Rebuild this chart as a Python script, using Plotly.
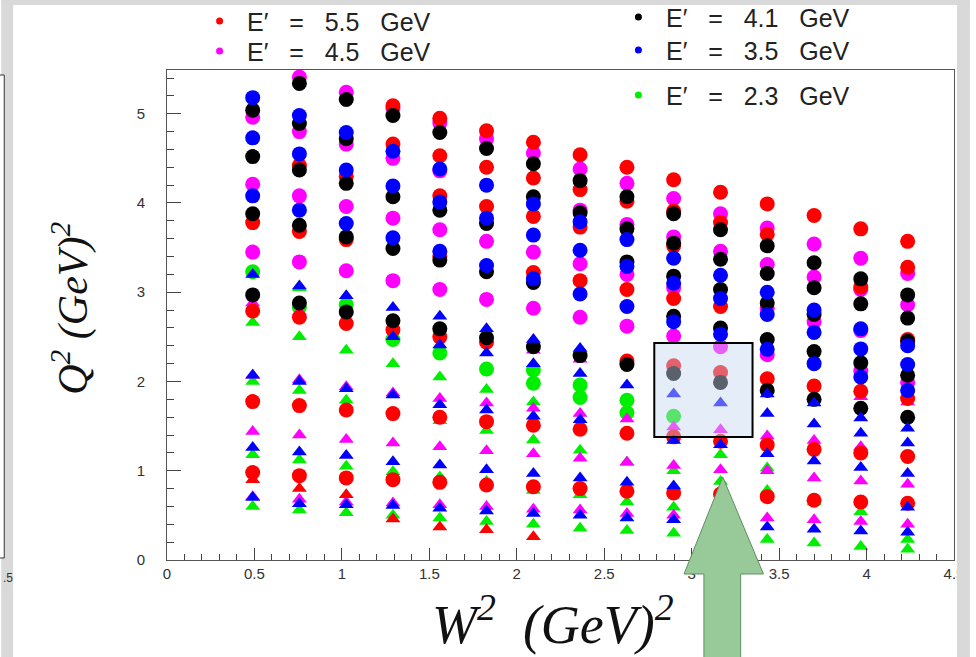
import plotly.graph_objects as go

# ---------------- data ----------------
W2_BINS = [0.49, 0.757, 1.025, 1.292, 1.56, 1.827, 2.095, 2.362, 2.63,
           2.897, 3.165, 3.432, 3.70, 3.967, 4.235]

# Q2 values per W2 bin (one sub-list per bin)
red_circle = [
    [3.78, 2.79, 1.775, 0.98],
    [4.42, 3.68, 2.72, 1.73, 0.945],
    [4.30, 3.59, 2.65, 1.68, 0.92],
    [5.09, 4.66, 2.58, 1.64, 0.90],
    [4.95, 4.53, 4.08, 3.40, 2.50, 1.60, 0.87],
    [4.81, 4.40, 3.96, 2.44, 1.55, 0.84],
    [4.68, 4.28, 3.85, 3.22, 1.51, 0.82],
    [4.54, 4.15, 3.73, 3.13, 1.465, 0.80],
    [4.40, 4.02, 3.03, 2.23, 1.42, 0.77],
    [4.26, 3.91, 3.52, 2.93, 2.175, 1.38, 0.75],
    [4.12, 3.78, 2.84, 2.10, 1.33, 0.74],
    [3.99, 3.65, 2.03, 1.29, 0.71],
    [3.86, 1.95, 1.24, 0.67],
    [3.71, 3.06, 1.89, 1.20, 0.65],
    [3.57, 3.28, 2.47, 1.81, 1.16, 0.635],
]
red_triangle = [[0.90], [0.80], [0.73], [0.46], [0.37], [0.34], [0.26],
                [], [], [], [], [], [], [], []]

magenta_circle = [
    [4.96, 4.21, 3.45],
    [5.41, 4.80, 4.08, 3.34],
    [5.24, 4.66, 3.96, 3.24],
    [5.06, 4.50, 3.83, 3.13],
    [4.90, 4.36, 3.70, 3.03],
    [4.72, 3.57, 2.92],
    [4.56, 3.45, 2.82],
    [4.38, 3.92, 3.32, 2.72],
    [4.22, 3.76, 3.20, 2.62],
    [4.05, 3.62, 3.05, 2.51],
    [3.88, 3.46, 2.39],
    [3.72, 3.31, 2.82, 2.30],
    [3.54, 3.17, 2.67],
    [3.38, 3.03, 2.57, 2.12],
    [3.21, 2.86, 1.99],
]
magenta_triangle = [
    [2.88, 2.07, 1.44, 0.71],
    [2.78, 2.02, 1.40, 0.68],
    [1.94, 1.35, 0.65],
    [1.87, 1.31, 0.64],
    [1.81, 1.27, 0.62],
    [1.76, 1.225, 0.60],
    [2.35, 1.70, 1.19, 0.57],
    [2.25, 1.64, 1.14, 0.56],
    [1.58, 1.095, 0.52],
    [1.49, 1.06, 0.50],
    [1.46, 1.01, 0.47],
    [1.39, 1.00, 0.47],
    [1.34, 0.92, 0.45],
    [1.83, 1.27, 0.885, 0.43],
    [1.77, 0.85, 0.40],
]

black_circle = [
    [5.04, 4.52, 3.88, 2.97],
    [5.34, 4.89, 4.37, 3.75, 2.88],
    [5.16, 4.72, 4.22, 3.62, 2.78],
    [4.98, 4.07, 3.49, 2.68],
    [4.79, 3.92, 3.36, 2.59],
    [4.61, 3.77, 3.23, 2.49],
    [4.44, 4.07, 3.11, 2.39],
    [4.25, 3.89, 2.29],
    [4.07, 3.71, 3.34, 2.19],
    [3.88, 3.55, 3.18, 2.73, 2.09],
    [3.70, 3.37, 3.03, 2.60, 1.99],
    [3.52, 3.21, 2.88, 2.47, 1.90],
    [3.33, 3.05, 2.75, 2.335, 1.80],
    [3.15, 2.87, 2.21, 1.70],
    [2.97, 2.71, 2.45, 2.07, 1.60],
]

blue_circle = [
    [5.18, 4.73, 4.08],
    [4.98, 4.55, 3.92],
    [4.79, 4.37, 3.77],
    [4.58, 4.19, 3.61],
    [4.38, 4.01, 3.46],
    [4.20, 3.83, 3.30],
    [3.99, 3.64, 3.15],
    [3.79, 3.47, 2.98],
    [3.59, 3.29, 2.84],
    [3.38, 3.10, 2.67],
    [3.19, 2.93, 2.53],
    [3.00, 2.75, 2.36],
    [2.80, 2.55, 2.20],
    [2.59, 2.365, 2.05],
    [2.40, 2.19, 1.90],
]
blue_triangle = [
    [3.20, 2.07, 1.26, 0.70],
    [3.07, 2.00, 1.21, 0.63],
    [2.96, 1.92, 1.17, 0.62],
    [2.83, 2.50, 1.85, 1.10, 0.61],
    [2.73, 2.41, 1.74, 1.065, 0.58],
    [2.59, 2.32, 1.68, 1.01, 0.55],
    [2.47, 2.20, 1.61, 0.97, 0.52],
    [2.37, 2.09, 1.57, 0.92, 0.50],
    [1.96, 0.87, 0.47],
    [1.86, 1.34, 0.83, 0.45],
    [1.76, 1.29, 0.42],
    [1.86, 1.64, 1.19, 0.37],
    [1.76, 1.525, 1.11, 0.345],
    [1.59, 1.42, 1.035, 0.325],
    [1.475, 1.31, 0.97, 0.59, 0.31],
]

green_circle = [[3.23], [2.83], [2.86], [2.47], [2.32], [2.14], [2.13, 1.98],
                [1.96, 1.82], [1.79, 1.65], [1.61], [], [], [], [], []]
green_triangle = [
    [2.66, 2.00, 1.18, 0.60],
    [3.05, 2.50, 1.90, 1.12, 0.56],
    [2.35, 1.79, 1.05, 0.53],
    [2.20, 0.99, 0.50],
    [2.05, 1.56, 0.93, 0.47],
    [1.91, 1.45, 0.88, 0.43],
    [1.77, 1.345, 0.78, 0.40],
    [1.23, 0.73, 0.355],
    [1.095, 0.65, 0.33],
    [1.00, 0.59, 0.30],
    [1.18, 0.88, 0.28],
    [1.03, 0.78, 0.23],
    [0.65, 0.19],
    [0.54, 0.15],
    [0.23, 0.12],
]

LEGEND_LABELS = ["E′ = 5.5 GeV", "E′ = 4.5 GeV", "E′ = 4.1 GeV",
                 "E′ = 3.5 GeV", "E′ = 2.3 GeV"]
X_TICKS = [0, 0.5, 1, 1.5, 2, 2.5, 3, 3.5, 4, 4.5]
X_TICK_TEXT = ["0", "0.5", "1", "1.5", "2", "2.5", "3", "3.5", "4", "4.5"]
Y_TICKS = [0, 1, 2, 3, 4, 5]

# ---------------- style ----------------
RED, MAGENTA, BLACK, BLUE, GREEN = "#ff0000", "#ff00ff", "#000000", "#0000ff", "#00ee00"

W, H = 976, 657
ML, MR, MT, MB = 167, 16, 70, 97
PW, PH = W - ML - MR, H - MT - MB


def px(x):
    return (x - ML) / PW


def py(y):
    return (H - MB - y) / PH


def flat(groups):
    xs, ys = [], []
    for xb, vals in zip(W2_BINS, groups):
        for v in vals:
            xs.append(xb)
            ys.append(v)
    return xs, ys


fig = go.Figure()
series = [
    (green_circle, green_triangle, GREEN),
    (magenta_circle, magenta_triangle, MAGENTA),
    (red_circle, red_triangle, RED),
    (black_circle, None, BLACK),
    (blue_circle, blue_triangle, BLUE),
]
for circ, tri, col in series:
    for groups, sym, size in ((circ, "circle", 15), (tri, "triangle-up", 13)):
        if groups is None:
            continue
        xs, ys = flat(groups)
        fig.add_trace(go.Scatter(x=xs, y=ys, mode="markers", showlegend=False,
                                 marker=dict(symbol=sym, size=size, color=col,
                                             line=dict(width=0))))

tickfont = dict(family="Liberation Sans", size=15, color="#333333")
fig.update_xaxes(range=[0, 4.5], tickvals=X_TICKS, ticktext=X_TICK_TEXT,
                 ticks="inside", ticklen=12, tickcolor="#444", tickwidth=1,
                 minor=dict(dtick=0.1, ticks="inside", ticklen=6, tickcolor="#444"),
                 showline=True, linecolor="#555", linewidth=1, mirror=True,
                 showgrid=False, zeroline=False, tickfont=tickfont)
fig.update_yaxes(range=[0, 5.49], tickvals=Y_TICKS,
                 ticks="inside", ticklen=14, tickcolor="#444", tickwidth=1,
                 minor=dict(dtick=0.2, ticks="inside", ticklen=7, tickcolor="#444"),
                 showline=True, linecolor="#555", linewidth=1, mirror=True,
                 showgrid=False, zeroline=False, tickfont=tickfont,
                 ticklabelstandoff=18)

shapes = []
annotations = []

# highlighted box
shapes.append(dict(type="rect", xref="paper", yref="paper",
                   x0=px(658), x1=px(757), y0=py(437), y1=py(343),
                   fillcolor="rgba(195,215,240,0.45)", line=dict(color="black", width=2),
                   layer="above"))
# green arrow
ax = [727, 768, 745, 745, 708, 708, 688]
ay = [477, 574, 574, 660, 660, 574, 574]
path = "M " + " L ".join(f"{px(a):.5f},{py(b):.5f}" for a, b in zip(ax, ay)) + " Z"
shapes.append(dict(type="path", xref="paper", yref="paper", path=path,
                   fillcolor="#98c998", line=dict(color="#5f8f5f", width=1), layer="above"))

# slide borders
GRAY = "#d9d9d9"
for x0, x1, y0, y1 in [(0, W, 0, 5), (0, 12, 0, H), (963, W, 0, H)]:
    shapes.append(dict(type="rect", xref="paper", yref="paper",
                       x0=px(x0), x1=px(x1), y0=py(y1), y1=py(y0),
                       fillcolor=GRAY, line=dict(width=0), layer="above"))
shapes.append(dict(type="rect", xref="paper", yref="paper",
                   x0=px(-2), x1=px(3), y0=py(558), y1=py(75),
                   fillcolor="white", line=dict(color="#333", width=1), layer="above"))
annotations.append(dict(text=".5", xref="paper", yref="paper", x=px(0), y=py(578),
                        xanchor="left", yanchor="middle", showarrow=False,
                        font=dict(family="Liberation Sans", size=12, color="#333")))

# legend
leg = [(220, 21, RED), (220, 51, MAGENTA), (642, 17, BLACK), (642, 50, BLUE), (642, 95, GREEN)]
for (lx, ly, col), lab in zip(leg, LEGEND_LABELS):
    shapes.append(dict(type="circle", xref="paper", yref="paper",
                       xsizemode="pixel", ysizemode="pixel",
                       xanchor=px(lx), yanchor=py(ly), x0=-3.5, x1=3.5, y0=-3.5, y1=3.5,
                       fillcolor=col, line=dict(width=0), layer="above"))
    sp = "\u00a0\u00a0\u00a0"
    txt = lab.replace(" ", sp)
    annotations.append(dict(text=txt, xref="paper", yref="paper",
                            x=px(lx + 26), y=py(ly + 1), xanchor="left", yanchor="middle",
                            showarrow=False,
                            font=dict(family="Liberation Sans", size=25, color="#222")))

# axis titles
annotations.append(dict(text="<i>W<sup>2</sup>\u00a0\u00a0(GeV)<sup>2</sup></i>",
                        xref="paper", yref="paper", x=px(556), y=py(620),
                        xanchor="center", yanchor="middle", showarrow=False,
                        font=dict(family="Liberation Serif", size=54, color="#111")))
annotations.append(dict(text="<i>Q<sup>2</sup>\u00a0(GeV)<sup>2</sup></i>",
                        xref="paper", yref="paper", x=px(70), y=py(308),
                        xanchor="center", yanchor="middle", showarrow=False, textangle=-90,
                        font=dict(family="Liberation Serif", size=42, color="#111")))

fig.update_layout(width=W, height=H, autosize=False,
                  margin=dict(l=ML, r=MR, t=MT, b=MB, pad=0),
                  paper_bgcolor="white", plot_bgcolor="white",
                  shapes=shapes, annotations=annotations)

fig.write_html("out.html")
